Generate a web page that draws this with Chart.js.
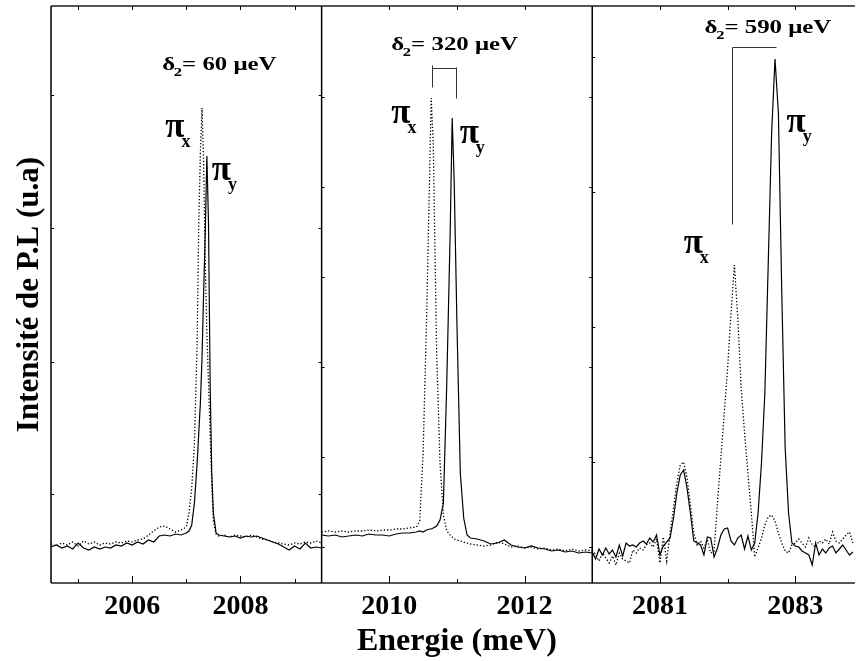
<!DOCTYPE html>
<html>
<head>
<meta charset="utf-8">
<script src="https://cdn.jsdelivr.net/npm/chart.js@4.4.1/dist/chart.umd.min.js"></script>
<style>
  html, body { margin: 0; padding: 0; background: #fff; }
</style>
</head>
<body>
<canvas id="chart" width="859" height="661"></canvas>
<script>
const serif = '"Liberation Serif", "Times New Roman", serif';

// ---- panel 1 : 2004.5 -> 2009.5 meV
const e1 = [2004.5, 2004.6, 2004.7, 2004.8, 2004.9, 2005.0, 2005.1, 2005.2, 2005.3, 2005.4,
    2005.5, 2005.6, 2005.7, 2005.8, 2005.9, 2006.0, 2006.1, 2006.2, 2006.3, 2006.4,
    2006.5, 2006.6, 2006.7, 2006.8, 2006.9,
    2007.0, 2007.05, 2007.1, 2007.15, 2007.2, 2007.23, 2007.26, 2007.29, 2007.32, 2007.35,
    2007.38, 2007.41, 2007.44, 2007.47, 2007.5, 2007.55, 2007.6,
    2007.7, 2007.8, 2007.9, 2008.0, 2008.1, 2008.2, 2008.3, 2008.4, 2008.5, 2008.6,
    2008.7, 2008.8, 2008.9, 2009.0, 2009.1, 2009.2, 2009.3, 2009.4, 2009.5];
const piY1 = [36, 38, 35, 37, 34, 40, 35, 33, 36, 34, 36, 35, 38, 37, 40, 38, 41, 39, 43, 41, 47, 48, 47, 49, 48,
    50, 52, 58, 80, 120, 150, 180, 225, 290, 350, 427, 360, 200, 110, 70, 50, 48,
    47, 46, 47, 45, 47, 46, 47, 45, 43, 41, 39, 36, 33, 37, 34, 40, 35, 36, 35];
const piX1 = [39, 37, 40, 38, 41, 37, 42, 39, 41, 38, 40, 39, 41, 40, 42, 41, 43, 44, 48, 52, 56, 57, 54, 51, 53,
    56, 70, 95, 140, 240, 360, 430, 475, 420, 320, 250, 200, 150, 100, 62, 49, 47,
    48, 46, 48, 47, 46, 48, 46, 44, 43, 41, 40, 39, 38, 40, 39, 41, 40, 42, 40];

// ---- panel 2 : 2009 -> 2013 meV
const e2 = [2009.0, 2009.1, 2009.2, 2009.3, 2009.4, 2009.5, 2009.6, 2009.7, 2009.8, 2009.9,
    2010.0, 2010.1, 2010.2, 2010.3,
    2010.4, 2010.45, 2010.5, 2010.55, 2010.6, 2010.62, 2010.65, 2010.7, 2010.75, 2010.8,
    2010.85, 2010.9, 2010.93, 2010.96, 2011.0, 2011.05, 2011.1, 2011.15, 2011.2,
    2011.3, 2011.4, 2011.5, 2011.6, 2011.7, 2011.8, 2011.9, 2012.0, 2012.1, 2012.2,
    2012.3, 2012.4, 2012.5, 2012.6, 2012.7, 2012.8, 2012.9, 2013.0];
const piY2 = [48, 47, 48, 46, 47, 48, 47, 49, 48, 48, 47, 49, 50, 50,
    51, 52, 51, 53, 54, 54, 55, 57, 63, 80, 200, 350, 465, 400, 260, 110, 65, 48, 45,
    44, 42, 39, 40, 43, 38, 36, 35, 37, 35, 34, 32, 33, 31, 32, 30, 31, 30];
const piX2 = [51, 52, 51, 52, 51, 52, 52, 53, 52, 53, 53, 54, 54, 55,
    56, 62, 130, 260, 420, 485, 440, 230, 120, 68, 52, 48, 46, 44, 43, 42, 41, 40, 39,
    38, 37, 38, 41, 39, 36, 37, 35, 36, 34, 35, 33, 34, 32, 34, 32, 33, 32];

// ---- panel 3 : 2080 -> 2083.88 meV
const e3 = [2080.00, 2080.05, 2080.10, 2080.15, 2080.20, 2080.25, 2080.30, 2080.35, 2080.40, 2080.45,
    2080.50, 2080.55, 2080.60, 2080.65, 2080.70, 2080.75, 2080.80, 2080.85, 2080.90, 2080.95,
    2081.00, 2081.05, 2081.10, 2081.15, 2081.20, 2081.25, 2081.30, 2081.35, 2081.40, 2081.45,
    2081.50, 2081.55, 2081.60, 2081.65, 2081.70, 2081.75, 2081.80, 2081.85, 2081.90, 2081.95,
    2082.00, 2082.05, 2082.10, 2082.15, 2082.20, 2082.25, 2082.30, 2082.35, 2082.40, 2082.45,
    2082.50, 2082.55, 2082.60, 2082.65, 2082.70, 2082.75, 2082.80, 2082.85, 2082.90, 2082.95,
    2083.00, 2083.05, 2083.10, 2083.15, 2083.20, 2083.25, 2083.30, 2083.35, 2083.40, 2083.45,
    2083.50, 2083.55, 2083.60, 2083.65, 2083.70, 2083.75, 2083.80, 2083.85];
const piY3 = [31, 24, 34, 28, 35, 29, 33, 26, 38, 27,
    40, 37, 38, 36, 40, 42, 39, 45, 41, 48,
    28, 37, 41, 45, 65, 90, 108, 113, 95, 70,
    42, 40, 38, 28, 46, 45, 26, 35, 48, 54,
    55, 42, 38, 45, 48, 34, 47, 33, 40, 70,
    120, 190, 320, 450, 524, 470, 290, 135, 70, 40,
    37, 36, 32, 30, 28, 18, 40, 28, 34, 30,
    35, 37, 30, 34, 38, 33, 28, 31];
const piX3 = [33, 28, 22, 30, 25, 20, 27, 18, 30, 24,
    22, 20, 33, 30, 35, 33, 38, 40, 36, 44,
    20, 46, 22, 50, 75, 100, 118, 121, 105, 78,
    50, 38, 42, 35, 43, 30, 32, 80, 125, 170,
    215, 270, 318, 265, 195, 150, 110, 70, 26, 35,
    45, 58, 66, 68, 62, 50, 40, 32, 30, 38,
    40, 44, 40, 36, 45, 38, 36, 42, 40, 44,
    39, 51, 42, 40, 44, 48, 51, 40];

// tick labels and marks
const majorTicks1 = [2006, 2008];
const minorTicks1 = [2005, 2007, 2009];
const majorTicks2 = [2010, 2012];
const minorTicks2 = [2011];
const majorTicks3 = [2081, 2083];
const minorTicks3 = [2082];
const yTicks1 = [89, 221, 355, 488];
const yTicks2 = [36, 126, 216, 306, 396, 486];
const yTicks3 = [121, 256, 391, 526];

// annotations (data coordinates)
const splitLabels = [
    { scale: 'x1', x: 2006.555, y: 513, text: '= 60 μeV' },
    { scale: 'x2', x: 2010.03, y: 533, text: '= 320 μeV' },
    { scale: 'x3', x: 2081.66, y: 550, text: '= 590 μeV' }
];
const piLabels = [
    { scale: 'x1', x: 2006.61, y: 446, sub: 'x' },
    { scale: 'x1', x: 2007.47, y: 403, sub: 'y' },
    { scale: 'x2', x: 2010.03, y: 460, sub: 'x' },
    { scale: 'x2', x: 2011.04, y: 440, sub: 'y' },
    { scale: 'x3', x: 2081.35, y: 330, sub: 'x' },
    { scale: 'x3', x: 2082.87, y: 451, sub: 'y' }
];
const brackets = [
    { scale: 'x2', path: [[2010.63, 496], [2010.63, 518]] },
    { scale: 'x2', path: [[2010.63, 515], [2010.985, 515]] },
    { scale: 'x2', path: [[2010.985, 516], [2010.985, 485]] },
    { scale: 'x3', path: [[2082.06, 359], [2082.06, 536], [2082.72, 536]] }
];

const panels = [
    { id: 'x1', min: 2004.5, max: 2009.5, weight: 272, major: majorTicks1, minor: minorTicks1, yTicks: yTicks1, mirror: true },
    { id: 'x2', min: 2009, max: 2013, weight: 272, major: majorTicks2, minor: minorTicks2, yTicks: yTicks2, mirror: true },
    { id: 'x3', min: 2080, max: 2083.88, weight: 264, major: majorTicks3, minor: minorTicks3, yTicks: yTicks3, mirror: false }
];

function pts(xs, ys) {
    return xs.map((x, i) => ({ x: x, y: ys[i] }));
}

function solid(axis, data) {
    return { xAxisID: axis, data: data, borderColor: '#000', borderWidth: 1.2, pointRadius: 0, fill: false };
}
function dotted(axis, data) {
    return { xAxisID: axis, data: data, borderColor: '#000', borderWidth: 1.3, borderDash: [1.3, 2], pointRadius: 0, fill: false };
}

function xScale(p, withTitle) {
    return {
        type: 'linear',
        position: 'bottom',
        stack: 'energy',
        stackWeight: p.weight,
        min: p.min,
        max: p.max,
        afterBuildTicks: s => { s.ticks = p.major.map(v => ({ value: v })); },
        afterFit: s => { s.height = 78; },
        grid: { display: false, drawTicks: false },
        border: { display: false },
        ticks: {
            color: '#000', padding: 7, maxRotation: 0, autoSkip: false,
            font: { family: serif, size: 28, weight: 'bold' },
            callback: v => String(v)
        },
        title: {
            display: withTitle, text: 'Energie (meV)', color: '#000',
            font: { family: serif, size: 32, weight: 'bold' },
            padding: { top: 0, bottom: 0 }
        }
    };
}

const framePlugin = {
    id: 'frame',
    afterDatasetsDraw(chart) {
        const { ctx, chartArea: a, scales } = chart;
        const ys = scales.y;
        ctx.save();
        ctx.strokeStyle = '#555';
        ctx.lineWidth = 2;
        ctx.beginPath();
        ctx.moveTo(a.left, a.top); ctx.lineTo(a.right, a.top);
        ctx.moveTo(a.left, a.bottom); ctx.lineTo(a.right, a.bottom);
        ctx.stroke();
        panels.forEach(p => {
            const s = scales[p.id];
            ctx.strokeStyle = '#000';
            ctx.lineWidth = 1.5;
            ctx.beginPath();
            ctx.moveTo(s.left, a.top); ctx.lineTo(s.left, a.bottom);
            ctx.stroke();
            ctx.lineWidth = 1;
            ctx.beginPath();
            p.major.forEach(v => {
                const x = Math.round(s.getPixelForValue(v)) + 0.5;
                ctx.moveTo(x, a.bottom); ctx.lineTo(x, a.bottom - 7);
                ctx.moveTo(x, a.top); ctx.lineTo(x, a.top + 4);
            });
            p.minor.forEach(v => {
                const x = Math.round(s.getPixelForValue(v)) + 0.5;
                ctx.moveTo(x, a.bottom); ctx.lineTo(x, a.bottom - 4);
                ctx.moveTo(x, a.top); ctx.lineTo(x, a.top + 4);
            });
            p.yTicks.forEach(v => {
                const y = Math.round(ys.getPixelForValue(v)) + 0.5;
                ctx.moveTo(s.left, y); ctx.lineTo(s.left + 3, y);
                if (p.mirror) {
                    ctx.moveTo(s.right, y); ctx.lineTo(s.right - 3, y);
                }
            });
            ctx.stroke();
        });
        ctx.restore();
    }
};

const labelPlugin = {
    id: 'labels',
    afterDatasetsDraw(chart) {
        const { ctx, scales } = chart;
        const ys = scales.y;
        ctx.save();
        ctx.fillStyle = '#000';
        ctx.textBaseline = 'alphabetic';
        ctx.textAlign = 'left';

        // delta labels, drawn wide like the original
        splitLabels.forEach(l => {
            const x = scales[l.scale].getPixelForValue(l.x);
            const y = ys.getPixelForValue(l.y);
            ctx.save();
            ctx.translate(x, y);
            ctx.scale(1.38, 1);
            ctx.font = 'bold 18px ' + serif;
            ctx.fillText('δ', 0, 0);
            let w = ctx.measureText('δ').width;
            ctx.font = 'bold 12px ' + serif;
            ctx.fillText('2', w - 1, 6);
            w += ctx.measureText('2').width - 1;
            ctx.font = 'bold 18px ' + serif;
            ctx.fillText(l.text, w, 0);
            ctx.restore();
        });

        piLabels.forEach(l => {
            const x = scales[l.scale].getPixelForValue(l.x);
            const y = ys.getPixelForValue(l.y);
            ctx.font = 'bold 35px ' + serif;
            ctx.fillText('π', x, y);
            const w = ctx.measureText('π').width;
            ctx.font = 'bold 18px ' + serif;
            ctx.fillText(l.sub, x + w - 3, y + 10);
        });

        ctx.strokeStyle = '#333';
        ctx.lineWidth = 1;
        brackets.forEach(b => {
            const s = scales[b.scale];
            ctx.beginPath();
            b.path.forEach((pt, i) => {
                const x = Math.round(s.getPixelForValue(pt[0])) + 0.5;
                const y = Math.round(ys.getPixelForValue(pt[1])) + 0.5;
                if (i === 0) ctx.moveTo(x, y); else ctx.lineTo(x, y);
            });
            ctx.stroke();
        });
        ctx.restore();
    }
};

const ctx = document.getElementById('chart');
const chart = new Chart(ctx, {
    type: 'line',
    data: {
        datasets: [
            dotted('x1', pts(e1, piX1)),
            solid('x1', pts(e1, piY1)),
            dotted('x2', pts(e2, piX2)),
            solid('x2', pts(e2, piY2)),
            dotted('x3', pts(e3, piX3)),
            solid('x3', pts(e3, piY3))
        ]
    },
    options: {
        responsive: false,
        animation: false,
        devicePixelRatio: 1,
        layout: { padding: { top: 6, right: 0, bottom: 0, left: 0 } },
        plugins: { legend: { display: false }, tooltip: { enabled: false } },
        scales: {
            y: {
                position: 'left',
                min: 0,
                max: 577,
                afterFit: s => { s.width = 51; },
                grid: { display: false, drawTicks: false },
                border: { display: false },
                ticks: { display: false },
                title: {
                    display: true, text: 'Intensité de P.L (u.a)', color: '#000',
                    font: { family: serif, size: 31, weight: 'bold' },
                    padding: { top: 11, bottom: 0 }
                }
            },
            x1: xScale(panels[0], false),
            x2: xScale(panels[1], true),
            x3: xScale(panels[2], false)
        }
    },
    plugins: [framePlugin, labelPlugin]
});
</script>
</body>
</html>
